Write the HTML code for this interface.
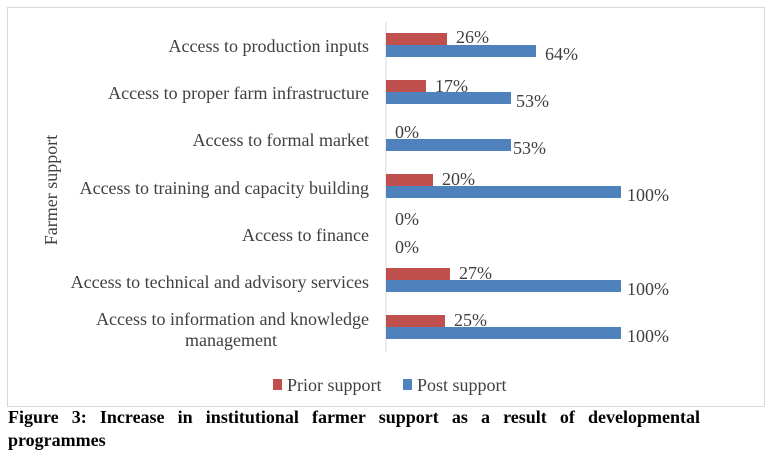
<!DOCTYPE html>
<html><head><style>
body{margin:0;background:#fff;width:768px;height:456px;overflow:hidden;font-family:"Liberation Serif",serif;}
.cap{position:absolute;left:8px;top:406px;width:692px;font-size:18px;font-weight:bold;text-align:justify;line-height:23px;color:#000;}
</style></head><body>
<svg width="768" height="456" style="position:absolute;left:0;top:0" font-family="Liberation Serif, serif">
<rect x="7.5" y="7.5" width="757" height="399" fill="#fff" stroke="#d9d9d9"/>
<line x1="386" y1="22" x2="386" y2="352" stroke="#d9d9d9"/>
<g fill="#c0504d">
<rect x="386" y="33" width="61" height="12"/>
<rect x="386" y="80" width="40" height="12"/>
<rect x="386" y="174" width="47" height="12"/>
<rect x="386" y="268" width="64" height="12"/>
<rect x="386" y="315" width="59" height="12"/>
</g>
<g fill="#4f81bd">
<rect x="386" y="45" width="150" height="12"/>
<rect x="386" y="92" width="125" height="12"/>
<rect x="386" y="139" width="125" height="12"/>
<rect x="386" y="186" width="235" height="12"/>
<rect x="386" y="280" width="235" height="12"/>
<rect x="386" y="327" width="235" height="12"/>
</g>
<g font-size="18" fill="#404040">
<text x="456" y="43">26%</text><text x="545" y="60">64%</text>
<text x="435" y="92">17%</text><text x="516" y="107">53%</text>
<text x="395" y="138">0%</text><text x="513" y="154">53%</text>
<text x="442" y="185">20%</text><text x="627" y="201">100%</text>
<text x="395" y="225">0%</text><text x="395" y="253">0%</text>
<text x="459" y="279">27%</text><text x="627" y="295">100%</text>
<text x="454" y="326">25%</text><text x="627" y="342">100%</text>
</g>
<g font-size="18" fill="#404040" text-anchor="end">
<text x="369" y="52">Access to production inputs</text>
<text x="369" y="99">Access to proper farm infrastructure</text>
<text x="369" y="146">Access to formal market</text>
<text x="369" y="194">Access to training and capacity building</text>
<text x="369" y="241">Access to finance</text>
<text x="369" y="288">Access to technical and advisory services</text>
<text x="369" y="325">Access to information and knowledge</text>
</g>
<text x="231" y="346" font-size="18" fill="#404040" text-anchor="middle">management</text>
<text transform="translate(57,190) rotate(-90)" font-size="18" fill="#404040" text-anchor="middle">Farmer support</text>
<rect x="273" y="379" width="9" height="11" fill="#c0504d"/>
<text x="287" y="391" font-size="18" fill="#404040">Prior support</text>
<rect x="403" y="379" width="9" height="11" fill="#4f81bd"/>
<text x="417" y="391" font-size="18" fill="#404040">Post support</text>
</svg>
<div class="cap">Figure 3: Increase in institutional farmer support as a result of developmental programmes</div>
</body></html>
